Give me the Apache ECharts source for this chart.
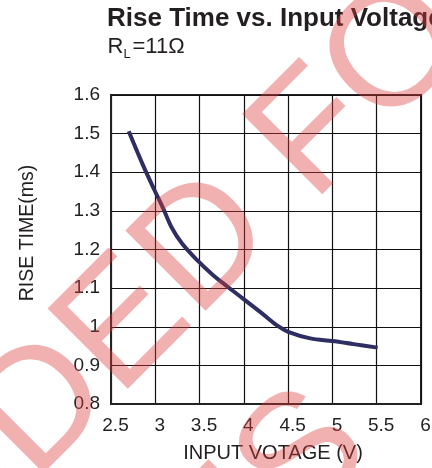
<!DOCTYPE html>
<html>
<head>
<meta charset="utf-8">
<script src="https://cdn.jsdelivr.net/npm/echarts@6/dist/echarts.min.js"></script>
<style>
html, body { margin: 0; padding: 0; background: #fff; }
#chart { width: 432px; height: 468px; }
</style>
</head>
<body>
<div id="chart"></div>
<script>
// rise time curve
var voltage = [2.70, 2.86, 2.99, 3.09, 3.18, 3.30, 3.47, 3.65, 3.82, 3.99, 4.18, 4.37, 4.50, 4.75, 5.00, 5.24, 5.51];
var riseTime = [1.506, 1.419, 1.354, 1.306, 1.259, 1.216, 1.173, 1.134, 1.103, 1.073, 1.039, 1.004, 0.987, 0.970, 0.963, 0.955, 0.946];

var titleText = 'Rise Time vs. Input Voltage';
var xName = 'INPUT VOTAGE (V)';
var yName = 'RISE TIME(ms)';

var font = 'Liberation Sans, Arial, Helvetica, sans-serif';
var ink = '#231f20';
var stamp = 'rgba(222, 60, 60, 0.4)';

var points = voltage.map(function (v, i) { return [v, riseTime[i]]; });

var myChart = echarts.init(document.getElementById('chart'));

myChart.setOption({
  animation: false,
  backgroundColor: '#fff',
  textStyle: { fontFamily: font },
  grid: {
    left: 111,
    right: 11,
    top: 95,
    bottom: 64,
    outerBoundsMode: 'none',
    show: true,
    borderColor: '#222',
    borderWidth: 2,
    backgroundColor: 'transparent'
  },
  xAxis: {
    type: 'value',
    min: 2.5,
    max: 6,
    interval: 0.5,
    name: xName,
    nameLocation: 'middle',
    nameGap: 39,
    nameTextStyle: { color: ink, fontSize: 20, fontFamily: font, padding: [0, 0, 0, 14] },
    axisLine: { show: true, lineStyle: { color: '#222', width: 2 } },
    axisTick: { show: false },
    axisLabel: { color: ink, fontSize: 19, fontFamily: font, margin: 12, padding: [0, 0, 0, 9] },
    splitLine: { show: true, lineStyle: { color: '#111', width: 1.2 } }
  },
  yAxis: {
    type: 'value',
    min: 0.8,
    max: 1.6,
    interval: 0.1,
    name: yName,
    nameLocation: 'middle',
    nameGap: 73,
    nameTextStyle: { color: ink, fontSize: 19.5, fontFamily: font, padding: [0, 0, 0, 33] },
    axisLine: { show: true, lineStyle: { color: '#222', width: 2 } },
    axisTick: { show: false },
    axisLabel: { color: ink, fontSize: 19, fontFamily: font, margin: 11 },
    splitLine: { show: true, lineStyle: { color: '#111', width: 1.2 } }
  },
  series: [
    {
      type: 'line',
      data: points,
      smooth: 0.35,
      showSymbol: false,
      lineStyle: { color: '#2f2e62', width: 4 },
      z: 3
    }
  ],
  graphic: [
    // title + subtitle
    { type: 'text', x: 107, y: 19, z: 10,
      style: { text: titleText, font: 'bold 26px ' + font, fill: ink, textVerticalAlign: 'middle', verticalAlign: 'middle' } },
    { type: 'text', x: 107.5, y: 47.4, z: 10,
      style: { text: 'R', font: '22px ' + font, fill: ink, textVerticalAlign: 'middle', verticalAlign: 'middle' } },
    { type: 'text', x: 123.5, y: 54, z: 10,
      style: { text: 'L', font: '13px ' + font, fill: ink, textVerticalAlign: 'middle', verticalAlign: 'middle' } },
    { type: 'text', x: 132.5, y: 47.4, z: 10,
      style: { text: '=11Ω', font: '22px ' + font, fill: ink, textVerticalAlign: 'middle', verticalAlign: 'middle' } },
    // pink watermark on top of everything
    { type: 'text', x: 86, y: 366, rotation: Math.PI / 4, z: 100,
      style: { text: 'NOT RECOMMEND', font: '165px ' + font, fill: stamp,
        textAlign: 'right', align: 'right', textVerticalAlign: 'middle', verticalAlign: 'middle' } },
    { type: 'text', x: 86, y: 366, rotation: Math.PI / 4, z: 100,
      style: { text: 'ED FOR', font: '165px ' + font, fill: stamp,
        textAlign: 'left', align: 'left', textVerticalAlign: 'middle', verticalAlign: 'middle' } },
    { type: 'text', x: 344, y: 420, rotation: Math.PI / 4, z: 100,
      style: { text: 'NEW DESIGNS', font: '165px ' + font, fill: stamp,
        textAlign: 'right', align: 'right', textVerticalAlign: 'middle', verticalAlign: 'middle' } }
  ]
});

window.addEventListener('resize', function () {
  myChart.resize();
});
</script>
</body>
</html>
